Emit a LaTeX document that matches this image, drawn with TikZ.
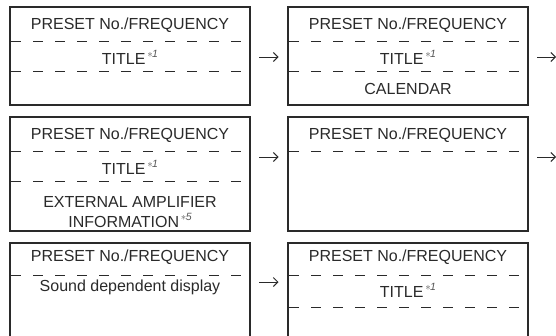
\documentclass[tikz,border=0pt]{standalone}
\usepackage{fontspec}
\setmainfont{Liberation Sans}
\usetikzlibrary{arrows.meta}
\begin{document}
\begin{tikzpicture}[x=1pt,y=-1pt,
  frame/.style={draw=ink,line width=1.1pt},
  sep/.style={draw=ink,line width=1.1pt,dash pattern=on 10pt off 12pt,dash phase=-1pt},
  lbl/.style={text=ink,font=\fontsize{16}{19}\selectfont,inner sep=0pt,align=center},
  arr/.style={draw=ink,line width=1pt,-{Straight Barb[length=4.5pt,width=9pt,line width=1pt]}}]
\definecolor{ink}{HTML}{2A2A2A}
\useasboundingbox (0,0) rectangle (556,335);
\newcommand{\fnote}[1]{\raisebox{0.85ex}{\fontsize{10.5}{10.5}\selectfont\color{ink!80}\,$\ast$\kern-0.5pt\textit{#1}}}
% row 1
\draw[frame] (10,7) rectangle (250,105);
\draw[sep] (10,41.5) -- (250,41.5);
\draw[sep] (10,71.5) -- (250,71.5);
\node[lbl] (a1) at (130,25.5) {PRESET No./FREQUENCY};
\node[lbl] (a2) at (130,57) {TITLE\fnote{1}};
\coordinate (p1) at (259,57); \coordinate (q1) at (278.5,57);
\draw[arr] (p1) -- (q1);
\draw[frame] (288,7) rectangle (528,105);
\draw[sep] (288,41.5) -- (528,41.5);
\draw[sep] (288,71.5) -- (528,71.5);
\node[lbl] (b1) at (408,25.5) {PRESET No./FREQUENCY};
\node[lbl] (b2) at (408,57) {TITLE\fnote{1}};
\node[lbl] (b3) at (408,88.5) {CALENDAR};
\coordinate (p2) at (537,57); \coordinate (q2) at (556,57);
\draw[arr] (p2) -- (q2);
% row 2
\draw[frame] (10,117) rectangle (250,231);
\draw[sep] (10,151.5) -- (250,151.5);
\draw[sep] (10,181.5) -- (250,181.5);
\node[lbl] (c1) at (130,135.5) {PRESET No./FREQUENCY};
\node[lbl] (c2) at (130,167.5) {TITLE\fnote{1}};
\node[lbl] (c3) at (130,201.5) {EXTERNAL AMPLIFIER};
\node[lbl] (c4) at (130,220.5) {INFORMATION\fnote{5}};
\coordinate (p3) at (259,157); \coordinate (q3) at (278.5,157);
\draw[arr] (p3) -- (q3);
\draw[frame] (288,117) rectangle (528,231);
\draw[sep] (288,151.5) -- (528,151.5);
\node[lbl] (d1) at (408,135.5) {PRESET No./FREQUENCY};
\coordinate (p4) at (537,157); \coordinate (q4) at (556,157);
\draw[arr] (p4) -- (q4);
% row 3
\draw[frame] (10,340) -- (10,243) -- (250,243) -- (250,340);
\draw[sep] (10,275.5) -- (250,275.5);
\node[lbl] (e1) at (130,257.5) {PRESET No./FREQUENCY};
\node[lbl] (e2) at (130,287) {Sound dependent display};
\coordinate (p5) at (259,282); \coordinate (q5) at (278.5,282);
\draw[arr] (p5) -- (q5);
\draw[frame] (288,340) -- (288,243) -- (528,243) -- (528,340);
\draw[sep] (288,275.5) -- (528,275.5);
\draw[sep] (288,307.5) -- (528,307.5);
\node[lbl] (f1) at (408,257.5) {PRESET No./FREQUENCY};
\node[lbl] (f2) at (408,290) {TITLE\fnote{1}};
\end{tikzpicture}
\end{document}
